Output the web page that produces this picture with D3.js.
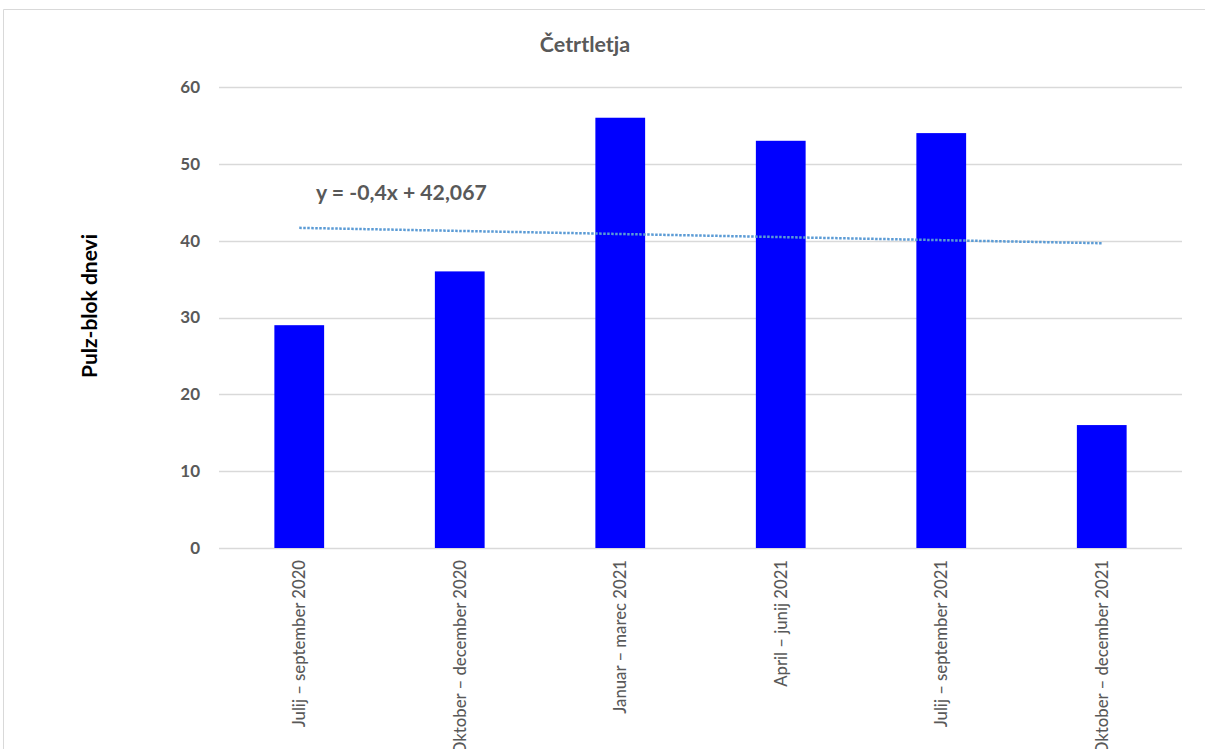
<!DOCTYPE html>
<html>
<head>
<meta charset="utf-8">
<script src="https://cdn.jsdelivr.net/npm/d3@7"></script>
<style>
  html, body { margin: 0; padding: 0; background: #fff; }
  svg { display: block; }
</style>
</head>
<body>
<svg id="chart" width="1205" height="749"></svg>
<script>
// Quarterly pulse-block days
const categories = [
  "Julij – september 2020",
  "Oktober – december 2020",
  "Januar – marec 2021",
  "April – junij 2021",
  "Julij – september 2021",
  "Oktober – december 2021"
];
const values = [29, 36, 56, 53, 54, 16];
const yTicks = [0, 10, 20, 30, 40, 50, 60];
// Linear trend y = slope * x + intercept, x = 1..n
const trendSlope = -0.4;
const trendIntercept = 42.067;
const trendLabel = "y = -0,4x + 42,067";
const chartTitle = "Četrtletja";
const yTitle = "Pulz-blok dnevi";

(function () {
const svg = d3.select("#chart");
const W = 1205, H = 749;
const font = "Lato, 'Open Sans', sans-serif";
const grey = "#595959";

// outer chart frame
svg.append("path")
  .attr("d", `M3.5,${H} V9.5 H${W}`)
  .attr("fill", "none")
  .attr("stroke", "#d9d9d9")
  .attr("stroke-width", 1);

const plotLeft = 219, plotRight = 1182, plotTop = 87, plotBottom = 548;

const x = d3.scaleBand().domain(categories).range([plotLeft, plotRight]).paddingInner(0.69).paddingOuter(0.345);
const y = d3.scaleLinear().domain([0, 60]).range([plotBottom, plotTop]);

// gridlines
svg.append("g").selectAll("line").data(yTicks).join("line")
  .attr("x1", plotLeft).attr("x2", plotRight)
  .attr("y1", d => Math.round(y(d)) + 0.5).attr("y2", d => Math.round(y(d)) + 0.5)
  .attr("stroke", "#d9d9d9").attr("stroke-width", 1.3);

// y axis labels
const yAxis = d3.axisLeft(y).tickValues(yTicks).tickSize(0).tickPadding(0);
const gy = svg.append("g").attr("transform", `translate(${plotLeft - 19},0)`).call(yAxis);
gy.select(".domain").remove();
gy.selectAll("text")
  .attr("font-family", font).attr("font-size", 17).attr("font-weight", "bold")
  .attr("fill", grey);

// bars
svg.append("g").selectAll("rect").data(values).join("rect")
  .attr("x", (d, i) => x(categories[i]))
  .attr("width", x.bandwidth())
  .attr("y", d => y(d))
  .attr("height", d => y(0) - y(d))
  .attr("fill", "#0000ff");

// x axis labels, rotated
const xAxis = d3.axisBottom(x).tickSize(0).tickPadding(0);
const gx = svg.append("g").attr("transform", `translate(0,${plotBottom})`).call(xAxis);
gx.select(".domain").remove();
gx.selectAll("text")
  .attr("font-family", font).attr("font-size", 16.7).attr("font-weight", 500)
  .attr("fill", grey)
  .attr("text-anchor", "end")
  .attr("dy", "0.35em")
  .attr("transform", "translate(0,12) rotate(-90)")
  .attr("x", 0).attr("y", 0);

// trendline
const xc = i => x(categories[i]) + x.bandwidth() / 2;
const trend = categories.map((c, i) => [xc(i), y(trendSlope * (i + 1) + trendIntercept)]);
svg.append("path")
  .attr("d", d3.line()([trend[0], trend[trend.length - 1]]))
  .attr("fill", "none")
  .attr("stroke", "#5b9bd5")
  .attr("stroke-width", 2.5)
  .attr("stroke-dasharray", "2.5 1.5");

svg.append("text")
  .attr("x", 316).attr("y", 200)
  .attr("font-family", font).attr("font-size", 21.2).attr("font-weight", "bold")
  .attr("fill", grey)
  .text(trendLabel);

// title
svg.append("text")
  .attr("x", 585).attr("y", 52)
  .attr("text-anchor", "middle")
  .attr("font-family", font).attr("font-size", 21.5).attr("font-weight", "bold")
  .attr("fill", grey)
  .text(chartTitle);

// y axis title
svg.append("text")
  .attr("transform", "translate(97,306) rotate(-90)")
  .attr("text-anchor", "middle")
  .attr("font-family", font).attr("font-size", 21).attr("font-weight", "bold")
  .attr("fill", "#000")
  .text(yTitle);
})();
</script>
</body>
</html>
